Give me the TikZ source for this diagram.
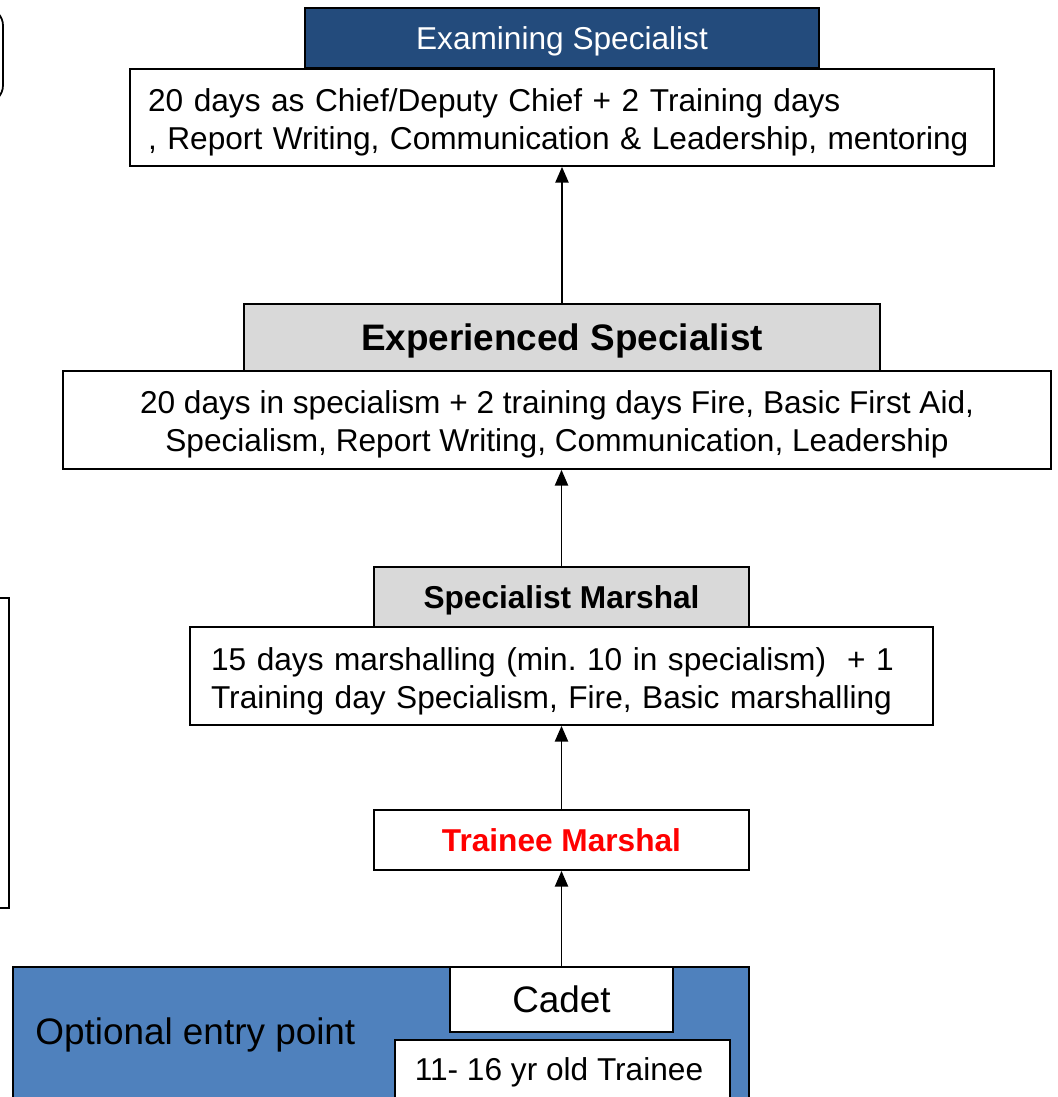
\documentclass[tikz,border=0pt]{standalone}
\usepackage{fontspec}
\setmainfont{Liberation Sans}
\usetikzlibrary{arrows.meta}
\definecolor{darkblue}{HTML}{234B7C}
\definecolor{midblue}{HTML}{4F81BD}
\definecolor{boxgray}{HTML}{D9D9D9}
\frenchspacing
\begin{document}
\begin{tikzpicture}[x=0.02cm,y=-0.02cm,
	box/.style={draw,line width=1pt,fill=white,inner sep=0pt,text depth=0pt,font=\fontsize{18}{21.6}\selectfont},
	title/.style={box,fill=boxgray,font=\fontsize{18}{21.6}\selectfont\bfseries},
	words/.style={inner sep=0pt,font=\fontsize{18}{21.6}\selectfont},
	up/.style={line width=1.1pt,-{Triangle[length=9pt,width=7.5pt]}}]
	\clip (0,0) rectangle (1057,1097);
	\fill[white] (0,0) rectangle (1057,1097);
	% cut off boxes on the left
	\draw[line width=1pt,rounded corners=10] (-40,8) rectangle (3,103);
	\draw[line width=1pt] (-40,598) rectangle (9,908);
	
	\node[box,fill=darkblue,text=white,minimum width=10.28cm,minimum height=1.2cm] (exam) at (562,38) {Examining Specialist};
	\node[box,minimum width=17.28cm,minimum height=1.94cm] (detail1) at (562,117.5) {};
	\node[words,align=left,text width=16.56cm] (detail1text) at (562,122.5) {20 days as Chief/Deputy Chief + 2 Training days\\, Report Writing, Communication \& Leadership, mentoring};
	
	\node[title,font=\fontsize{21}{25}\selectfont\bfseries,minimum width=12.72cm,minimum height=1.34cm] (exper) at (562,337.5) {Experienced Specialist};
	\node[box,minimum width=19.76cm,minimum height=1.96cm] (detail2) at (557,420) {};
	\node[words,align=center] (detail2text) at (557,424) {20 days in specialism + 2 training days Fire, Basic First Aid,\\Specialism, Report Writing, Communication, Leadership};
	
	\node[title,minimum width=7.5cm,minimum height=1.2cm] (spec) at (561.5,597) {Specialist Marshal};
	\node[box,minimum width=14.86cm,minimum height=1.96cm] (detail3) at (561.5,676) {};
	\node[words,align=left,text width=14.02cm] (detail3text) at (561.5,681) {15 days marshalling (min. 10 in specialism) \ + 1\\Training day Specialism, Fire, Basic marshalling};
	
	\node[box,font=\fontsize{18}{21.6}\selectfont\bfseries,text=red,minimum width=7.5cm,minimum height=1.2cm] (trainee) at (561.5,840) {Trainee Marshal};
	
	% optional entry
	\node[box,fill=midblue,minimum width=14.72cm,minimum height=3.2cm] (entry) at (381,1047) {};
	\node[font=\fontsize{21}{25}\selectfont,anchor=west,inner sep=0pt] (entrytext) at (35,1035) {Optional entry point};
	\node[box,font=\fontsize{21}{25}\selectfont,minimum width=4.46cm,minimum height=1.3cm] (cadet) at (561.5,999.5) {Cadet};
	\node[box,minimum width=6.7cm,minimum height=1.74cm] (young) at (562.5,1083.5) {};
	\node[words] (youngtext) at (559,1072) {11- 16 yr old Trainee};
	
	\draw[up] (exper.north) -- (detail1.south);
	\draw[up] (spec.north) -- (spec.north |- detail2.south);
	\draw[up] (trainee.north) -- (detail3.south);
	\draw[up] (cadet.north) -- (trainee.south);
\end{tikzpicture}
\end{document}
